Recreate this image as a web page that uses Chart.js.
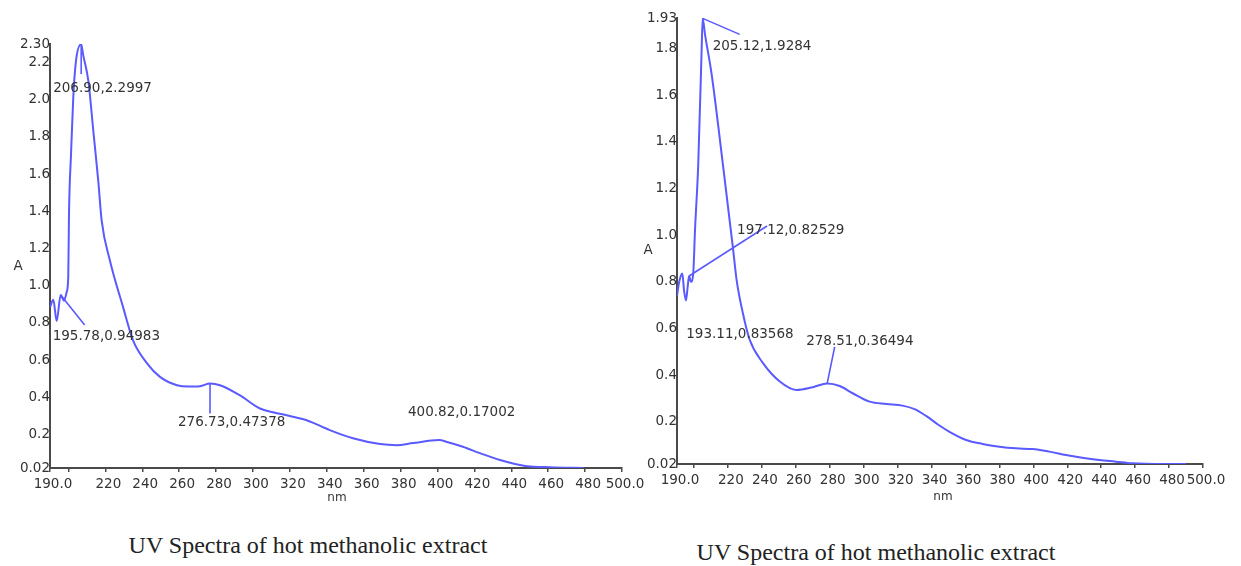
<!DOCTYPE html>
<html>
<head>
<meta charset="utf-8">
<script src="https://cdn.jsdelivr.net/npm/chart.js@4.4.1/dist/chart.umd.min.js"></script>
<style>
  html, body { margin: 0; padding: 0; background: #fff; }
  body { width: 1241px; height: 566px; position: relative; overflow: hidden; }
  canvas { position: absolute; top: 0; }
  #leftChart { left: 0; }
  #rightChart { left: 640px; }
  .caption {
    position: absolute;
    font-family: "Liberation Serif", "DejaVu Serif", serif;
    font-size: 24px;
    color: #222;
    white-space: nowrap;
    transform: translate(-50%, -50%);
  }
</style>
</head>
<body>
<canvas id="leftChart" width="650" height="510"></canvas>
<canvas id="rightChart" width="601" height="510"></canvas>
<div class="caption" style="left:308px; top:545px;">UV Spectra of hot methanolic extract</div>
<div class="caption" style="left:876px; top:552px;">UV Spectra of hot methanolic extract</div>

<script>
// ---- Spectrum 1 (left panel): wavelength (nm) and absorbance ----
const leftWavelength = [
  190.0, 191.8, 193.6, 195.78, 197.6, 199.0, 199.9, 200.3, 201.4, 202.6,
  204.1, 206.90, 208.0, 210.8, 213.5, 216.2, 218.0, 222.5, 229.6, 235.0,
  242.6, 249.6, 258.8, 265.0, 271.3, 276.73, 282.1, 293.0, 303.8, 310.9,
  320.0, 329.1, 341.6, 354.2, 368.9, 378.0, 386.7, 400.82, 405.2, 413.8,
  423.0, 433.9, 448.4, 461.0, 479.0
];
const leftAbsorbance = [
  0.885, 0.925, 0.81, 0.94983, 0.92, 0.965, 1.05, 1.39, 1.71, 2.01,
  2.21, 2.2997, 2.24, 2.10, 1.83, 1.56, 1.35, 1.135, 0.885, 0.706,
  0.583, 0.51, 0.465, 0.458, 0.46, 0.47378, 0.465, 0.41, 0.34, 0.32,
  0.30, 0.277, 0.224, 0.18, 0.149, 0.143, 0.154, 0.17002, 0.16, 0.134,
  0.10, 0.063, 0.03, 0.024, 0.02
];

// ---- Spectrum 2 (right panel) ----
const rightWavelength = [
  190.0, 191.3, 193.11, 194.2, 195.3, 196.3, 197.12, 198.2, 199.6, 200.6,
  202.5, 204.5, 205.12, 206.5, 210.4, 217.1, 222.9, 225.1, 228.8, 232.9,
  240.6, 250.6, 260.4, 270.0, 278.51, 285.9, 293.5, 303.5, 313.4, 322.9,
  330.0, 337.0, 344.0, 350.6, 360.4, 370.0, 380.0, 389.8, 399.4, 409.4,
  419.2, 428.8, 438.8, 448.6, 458.2, 478.0, 490.0
];
const rightAbsorbance = [
  0.74, 0.80, 0.83568, 0.76, 0.72, 0.78, 0.82529, 0.80, 0.84, 1.02,
  1.30, 1.79, 1.9284, 1.86, 1.69, 1.30, 0.95, 0.81, 0.667, 0.551,
  0.453, 0.373, 0.337, 0.349, 0.36494, 0.354, 0.323, 0.287, 0.277, 0.27,
  0.255, 0.225, 0.188, 0.158, 0.123, 0.106, 0.094, 0.087, 0.084, 0.073,
  0.059, 0.047, 0.037, 0.030, 0.023, 0.02, 0.02
];

// ---- Picked peaks (wavelength, absorbance) ----
const leftPeakNm  = [206.90, 195.78, 276.73, 400.82];
const leftPeakA   = [2.2997, 0.94983, 0.47378, 0.17002];
const rightPeakNm = [205.12, 197.12, 193.11, 278.51];
const rightPeakA  = [1.9284, 0.82529, 0.83568, 0.36494];

// ---- Axis ticks ----
const xTickValues = [190, 200, 220, 240, 260, 280, 300, 320, 340, 360, 380, 400, 420, 440, 460, 480, 500];
const xTickLabels = ['190.0', '', '220', '240', '260', '280', '300', '320', '340', '360', '380', '400', '420', '440', '460', '480', '500.0'];
const leftYTickLabels  = ['0.02', '0.2', '0.4', '0.6', '0.8', '1.0', '1.2', '1.4', '1.6', '1.8', '2.0', '2.2', '2.30'];
const rightYTickLabels = ['0.02', '0.2', '0.4', '0.6', '0.8', '1.0', '1.2', '1.4', '1.6', '1.8', '1.93'];

// ---- Styling ----
const LINE_BLUE = 'rgb(90, 90, 255)';
const TEXT_COLOR = '#333';
const AXIS_COLOR = '#4a4a4a';
const FONT_FAMILY = 'DejaVu Sans';

// Callout placement: text anchor and leader-line end, as pixel offsets from the peak
const leftCallouts = [
  { text: [-28, 44], leader: [0, 30] },
  { text: [-8, 41],  leader: [24, 30] },
  { text: [-32, 39], leader: [0, 30] },
  { text: [-31, -28], leader: null }
];
const rightCallouts = [
  { text: [10, 28],  leader: [37, 16] },
  { text: [48, -45], leader: [78, -50] },
  { text: [4, 61],   leader: null },
  { text: [-21, -42], leader: [7.5, -36.5] }
];

function makeCalloutPlugin(peakNm, peakA, callouts, yTitleOffset, xTitleOffset) {
  return {
    id: 'peakCallouts',
    afterDatasetsDraw(chart) {
      const { ctx, chartArea } = chart;
      const xs = chart.scales.x, ys = chart.scales.y;
      ctx.save();
      peakNm.forEach((nm, i) => {
        const a = peakA[i];
        const px = xs.getPixelForValue(nm);
        const py = ys.getPixelForValue(a);
        const c = callouts[i];
        if (c.leader) {
          ctx.beginPath();
          ctx.moveTo(px, py);
          ctx.lineTo(px + c.leader[0], py + c.leader[1]);
          ctx.strokeStyle = LINE_BLUE;
          ctx.lineWidth = 1.6;
          ctx.stroke();
        }
        ctx.fillStyle = TEXT_COLOR;
        ctx.font = '13.5px "' + FONT_FAMILY + '"';
        ctx.textAlign = 'left';
        ctx.textBaseline = 'middle';
        ctx.fillText(nm.toFixed(2) + ',' + a, px + c.text[0], py + c.text[1]);
      });
      // axis titles
      ctx.fillStyle = TEXT_COLOR;
      ctx.textAlign = 'center';
      ctx.textBaseline = 'middle';
      ctx.font = '13.5px "' + FONT_FAMILY + '"';
      ctx.fillText('A', chartArea.left + yTitleOffset[0], (chartArea.top + chartArea.bottom) / 2 + yTitleOffset[1]);
      ctx.font = '12px "' + FONT_FAMILY + '"';
      ctx.fillText('nm', (chartArea.left + chartArea.right) / 2 + xTitleOffset[0], chartArea.bottom + xTitleOffset[1]);
      ctx.restore();
    }
  };
}

function buildSpectrum(canvasId, wavelengths, absorbance, yTickLabels, plugin, frame) {
  const yTickValues = yTickLabels.map(Number);
  const points = wavelengths.map((w, i) => ({ x: w, y: absorbance[i] }));
  return new Chart(document.getElementById(canvasId), {
    type: 'line',
    data: {
      datasets: [{
        data: points,
        borderColor: LINE_BLUE,
        borderWidth: 2,
        pointRadius: 0,
        fill: false,
        cubicInterpolationMode: 'monotone'
      }]
    },
    options: {
      responsive: false,
      animation: false,
      devicePixelRatio: 1,
      layout: { padding: { left: 0, top: frame.top, right: frame.right, bottom: 0 } },
      plugins: { legend: { display: false }, tooltip: { enabled: false } },
      scales: {
        x: {
          type: 'linear',
          min: xTickValues[0],
          max: xTickValues[xTickValues.length - 1],
          afterBuildTicks: (scale) => { scale.ticks = xTickValues.map(v => ({ value: v })); },
          afterFit: (scale) => { scale.height = frame.xHeight; },
          border: { display: true, color: AXIS_COLOR, width: 2 },
          grid: { display: true, drawOnChartArea: false, drawTicks: true, tickLength: 4, color: AXIS_COLOR, lineWidth: 1.5 },
          ticks: {
            autoSkip: false, maxRotation: 0, minRotation: 0,
            padding: 4, labelOffset: 3,
            color: TEXT_COLOR,
            font: { family: FONT_FAMILY, size: 13.5 },
            callback: (v) => { const k = xTickValues.indexOf(v); return k >= 0 ? xTickLabels[k] : ''; }
          }
        },
        y: {
          type: 'linear',
          min: yTickValues[0],
          max: yTickValues[yTickValues.length - 1],
          afterBuildTicks: (scale) => { scale.ticks = yTickValues.map(v => ({ value: v })); },
          afterFit: (scale) => { scale.width = frame.yWidth; },
          border: { display: true, color: AXIS_COLOR, width: 2 },
          grid: { display: false, drawTicks: false, tickLength: 0 },
          ticks: {
            autoSkip: false,
            padding: 0,
            color: TEXT_COLOR,
            font: { family: FONT_FAMILY, size: 13.5 },
            callback: (v) => { const k = yTickValues.indexOf(v); return k >= 0 ? yTickLabels[k] : ''; }
          }
        }
      }
    },
    plugins: [plugin]
  });
}

buildSpectrum('leftChart', leftWavelength, leftAbsorbance, leftYTickLabels,
  makeCalloutPlugin(leftPeakNm, leftPeakA, leftCallouts, [-32, 10], [1, 30]),
  { top: 44, right: 28, yWidth: 50, xHeight: 42 });

buildSpectrum('rightChart', rightWavelength, rightAbsorbance, rightYTickLabels,
  makeCalloutPlugin(rightPeakNm, rightPeakA, rightCallouts, [-29, 9], [3, 33]),
  { top: 18, right: 38, yWidth: 37, xHeight: 46 });
</script>
</body>
</html>
